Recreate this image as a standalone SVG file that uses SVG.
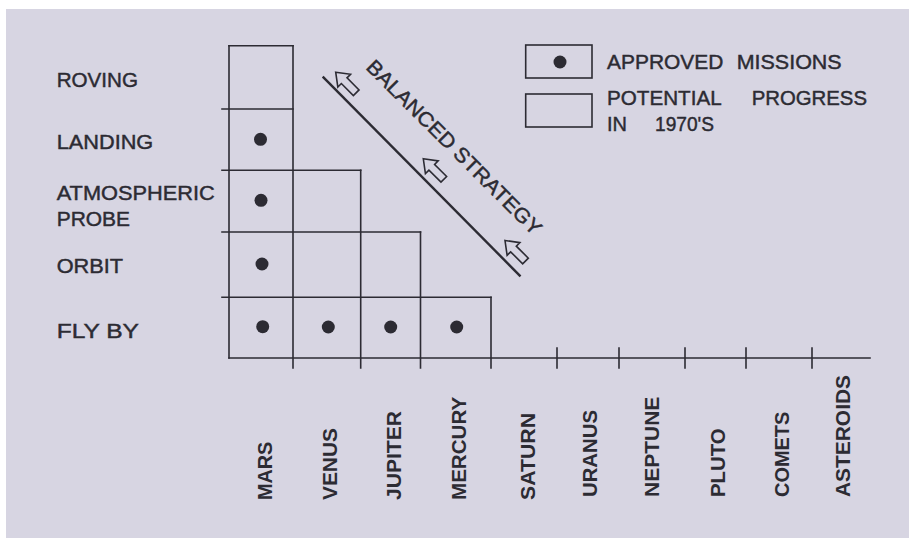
<svg xmlns="http://www.w3.org/2000/svg" width="909" height="538" viewBox="0 0 909 538">
<style>
.ln{stroke:#2c2b33;stroke-width:1.6;fill:none;stroke-linecap:square}
.dot{fill:#2c2b33}
.lbl{font-family:"Liberation Sans",Arial,sans-serif;font-size:20.5px;fill:#2c2b33;stroke:#2c2b33;stroke-width:0.45}
.col{font-family:"Liberation Sans",Arial,sans-serif;font-size:20.5px;font-weight:bold;fill:#2c2b33}
.leg{font-family:"Liberation Sans",Arial,sans-serif;font-size:21px;fill:#2c2b33;stroke:#2c2b33;stroke-width:0.45}
.arr{fill:none;stroke:#2c2b33;stroke-width:1.6;stroke-linejoin:miter}
</style>
<defs>
<path id="harrow" d="M0,0 L12,-9 L12,-4 L29,-4 L29,4 L12,4 L12,9 Z"/>
</defs>
<rect x="0" y="0" width="909" height="538" fill="#ffffff"/>
<rect x="6" y="9" width="903" height="529" fill="#d7d5e2"/>

<g id="grid">
<path class="ln" d="M229,45.7 H293 M222,109 H293 M222,170.3 H360.7 M222,232 H420.5 M222,297.3 H491 M229,358 H870"/>
<path class="ln" d="M229,45.7 V358 M293,45.7 V368 M360.7,170.3 V368 M420.5,232 V368 M491,297.3 V368"/>
<path class="ln" d="M557,348 V368 M619,348 V368 M685,348 V368 M746,348 V368 M812,348 V368"/>
</g>

<g id="approved-dots">
<circle class="dot" cx="260.5" cy="139.3" r="6.5"/>
<circle class="dot" cx="261" cy="200.3" r="6.5"/>
<circle class="dot" cx="262" cy="264" r="6.5"/>
<circle class="dot" cx="262.7" cy="326.7" r="6.5"/>
<circle class="dot" cx="328.3" cy="327" r="6.5"/>
<circle class="dot" cx="390.7" cy="327" r="6.5"/>
<circle class="dot" cx="456.7" cy="327" r="6.5"/>
</g>

<g id="row-labels">
<text class="lbl" x="56.7" y="86.7" textLength="81.3" lengthAdjust="spacingAndGlyphs">ROVING</text>
<text class="lbl" x="56.7" y="149" textLength="96.6" lengthAdjust="spacingAndGlyphs">LANDING</text>
<text class="lbl" x="56.7" y="200" textLength="158" lengthAdjust="spacingAndGlyphs">ATMOSPHERIC</text>
<text class="lbl" x="56.7" y="225.7" textLength="73.3" lengthAdjust="spacingAndGlyphs">PROBE</text>
<text class="lbl" x="56.7" y="273" textLength="66.3" lengthAdjust="spacingAndGlyphs">ORBIT</text>
<text class="lbl" x="56.7" y="337.7" textLength="82.3" lengthAdjust="spacingAndGlyphs">FLY  BY</text>
</g>

<g id="column-labels">
<text class="col" transform="translate(272,500) rotate(-90)" textLength="58.3" lengthAdjust="spacingAndGlyphs">MARS</text>
<text class="col" transform="translate(337.3,500) rotate(-90)" textLength="72" lengthAdjust="spacingAndGlyphs">VENUS</text>
<text class="col" transform="translate(400.5,500) rotate(-90)" textLength="89" lengthAdjust="spacingAndGlyphs">JUPITER</text>
<text class="col" transform="translate(465.5,500) rotate(-90)" textLength="103.3" lengthAdjust="spacingAndGlyphs">MERCURY</text>
<text class="col" transform="translate(535,500) rotate(-90)" textLength="87" lengthAdjust="spacingAndGlyphs">SATURN</text>
<text class="col" transform="translate(596.5,497) rotate(-90)" textLength="87" lengthAdjust="spacingAndGlyphs">URANUS</text>
<text class="col" transform="translate(659,497) rotate(-90)" textLength="100.3" lengthAdjust="spacingAndGlyphs">NEPTUNE</text>
<text class="col" transform="translate(725,497) rotate(-90)" textLength="68.7" lengthAdjust="spacingAndGlyphs">PLUTO</text>
<text class="col" transform="translate(789,497) rotate(-90)" textLength="85.3" lengthAdjust="spacingAndGlyphs">COMETS</text>
<text class="col" transform="translate(850,497) rotate(-90)" textLength="122" lengthAdjust="spacingAndGlyphs">ASTEROIDS</text>
</g>

<g id="balanced-strategy">
<line x1="322.7" y1="76.7" x2="520.5" y2="276.3" stroke="#2c2b33" stroke-width="2.4"/>
<use href="#harrow" class="arr" transform="translate(335.7,72.2) rotate(45)"/>
<use href="#harrow" class="arr" transform="translate(423.3,158.8) rotate(45)"/>
<use href="#harrow" class="arr" transform="translate(505,240.5) rotate(45)"/>
<text class="lbl" font-size="21.5" transform="translate(365.1,68.2) rotate(45)" textLength="238" lengthAdjust="spacingAndGlyphs">BALANCED  STRATEGY</text>
</g>

<g id="legend">
<rect class="ln" x="525.7" y="45" width="66.3" height="33"/>
<circle class="dot" cx="560" cy="62" r="6.5"/>
<text class="leg" x="607" y="69.3" textLength="116.3" lengthAdjust="spacingAndGlyphs">APPROVED</text>
<text class="leg" x="736.7" y="69.3" textLength="105" lengthAdjust="spacingAndGlyphs">MISSIONS</text>
<rect class="ln" x="525.7" y="94" width="66.3" height="33"/>
<text class="leg" x="607" y="105" textLength="114.7" lengthAdjust="spacingAndGlyphs">POTENTIAL</text>
<text class="leg" x="751.7" y="105" textLength="115.3" lengthAdjust="spacingAndGlyphs">PROGRESS</text>
<text class="leg" x="607" y="131" textLength="20" lengthAdjust="spacingAndGlyphs">IN</text>
<text class="leg" x="655" y="131" textLength="59" lengthAdjust="spacingAndGlyphs">1970'S</text>
</g>
</svg>
